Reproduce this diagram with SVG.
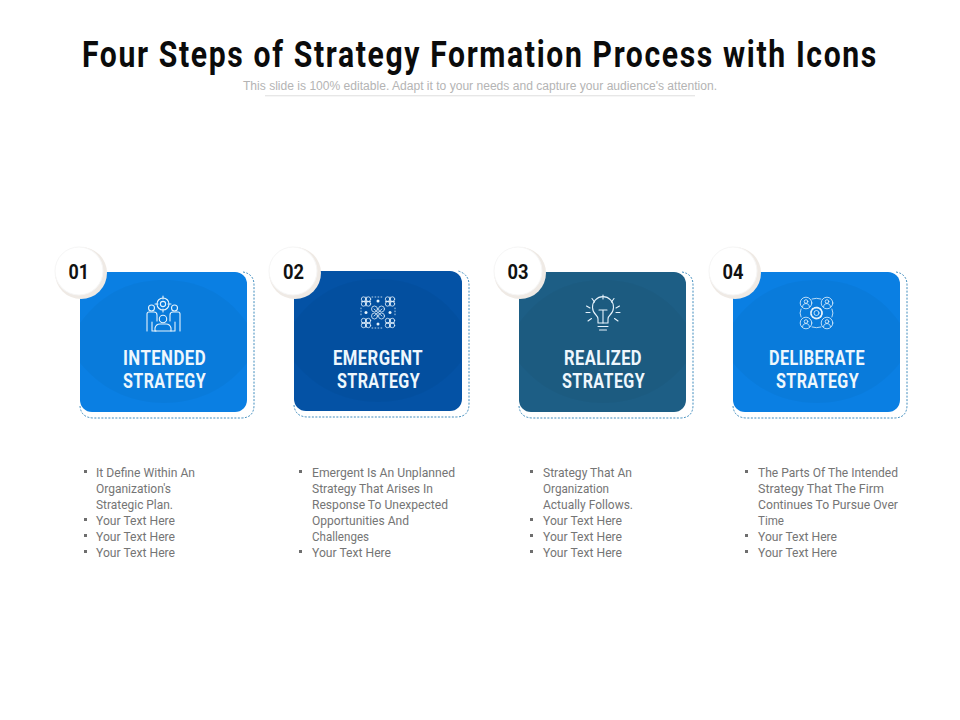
<svg xmlns="http://www.w3.org/2000/svg" width="960" height="720" viewBox="0 0 960 720">
<style>
text{font-family:"Roboto","Liberation Sans",sans-serif}
.t{font-weight:700;font-size:37px;letter-spacing:2px;fill:#0b0b0b}
.sub{font-size:12px;fill:#b4b4b4;font-family:"Liberation Sans",sans-serif}
.h{font-weight:700;font-size:20.500px;letter-spacing:.5px;fill:#eef7fd}
.n{font-weight:700;font-size:20.500px;fill:#111}
.b{font-size:13.500px;fill:#757575}
.dash{fill:none;stroke:#2a7fb5;stroke-width:.9;stroke-dasharray:2 1.500}
.lens{fill:#000;fill-opacity:.03}
.ic{fill:none;stroke:#e6f3fc;stroke-width:1.100;stroke-linecap:round;stroke-linejoin:round}
.thin{stroke-width:.8}
.fill{fill:#e6f3fc}
.halo{fill:#efeae5}
.disc{fill:#fff;stroke:#f6f6f6;stroke-width:1}
.bul{fill:#6e6e6e}
</style>
<defs>
<path id="lens" d="M0 51C24 18 54 8 84 8S144 18 167 51V91C144 120 114 131 84 131S24 120 0 91Z"/>
<g id="mini"><circle cx="-2.400" cy="-2.400" r="2.300"/><circle cx="2.400" cy="-2.400" r="2.300"/><circle cx="-2.400" cy="2.400" r="2.300"/><circle cx="2.400" cy="2.400" r="2.300"/><path d="M0 -4.500V4.500M-4.500 0H4.500"/></g>
<g id="usr"><circle r="5.800"/><circle cy="-1.500" r="1.800"/><path d="M-3.400 3.600C-3.100 1-1.400 .6 0 .6S3.100 1 3.400 3.600"/></g>
</defs>

<g id="title">
<text class="t" transform="translate(82 66.500) scale(.81 1)" x="0" y="0" textLength="982.700" lengthAdjust="spacingAndGlyphs">Four Steps of Strategy Formation Process with Icons</text>
<text class="sub" x="243" y="90" textLength="474" lengthAdjust="spacingAndGlyphs">This slide is 100% editable. Adapt it to your needs and capture your audience's attention.</text>
<rect x="265" y="95.500" width="430" height=".7" fill="#cfcfcf"/>
</g>

<g id="node-1">
<path class="dash" d="M80 406Q81 418 94 418H241Q254 418 254 405V285Q254 274 243 272"/>
<rect x="80" y="272" width="167" height="140" rx="12" fill="#0a7fe3"/>
<use href="#lens" x="80" y="272" class="lens"/>
<circle class="halo" cx="81" cy="273" r="26"/><circle class="disc" cx="79" cy="271" r="24"/>
<text class="n" x="68.500" y="278.500" textLength="20.500" lengthAdjust="spacingAndGlyphs">01</text>
<g class="ic">
<circle cx="163" cy="304" r="6"/><circle cx="163" cy="304" r="2.600"/><path d="M163 296V299M163 309V312M155 304H158M168 304H171"/>
<circle cx="151.500" cy="308" r="3"/><circle cx="174.500" cy="308" r="3"/>
<path d="M147 331V314Q147 312 149 312H154Q157 312 157 315V321M147 319V322M152 331V322M156 331H152M180 331V314Q180 312 178 312H173Q170 312 170 315V321M180 319V322M175 331V322M171 331H175"/>
<circle cx="163" cy="319" r="3.700"/><path d="M155 331V328Q156 324 160 324H166Q170 324 171 328V331Z"/>
</g>
<text class="h" x="123" y="365" textLength="83" lengthAdjust="spacingAndGlyphs">INTENDED</text>
<text class="h" x="123" y="388" textLength="83" lengthAdjust="spacingAndGlyphs">STRATEGY</text>
<rect class="bul" x="84" y="470" width="3" height="3"/>
<text class="b" x="96" y="476.500" textLength="99" lengthAdjust="spacingAndGlyphs">It Define Within An</text>
<text class="b" x="96" y="492.500" textLength="75" lengthAdjust="spacingAndGlyphs">Organization's</text>
<text class="b" x="96" y="508.500" textLength="77" lengthAdjust="spacingAndGlyphs">Strategic  Plan.</text>
<rect class="bul" x="84" y="518" width="3" height="3"/>
<text class="b" x="96" y="524.500" textLength="79" lengthAdjust="spacingAndGlyphs">Your Text Here</text>
<rect class="bul" x="84" y="534" width="3" height="3"/>
<text class="b" x="96" y="540.500" textLength="79" lengthAdjust="spacingAndGlyphs">Your Text Here</text>
<rect class="bul" x="84" y="550" width="3" height="3"/>
<text class="b" x="96" y="556.500" textLength="79" lengthAdjust="spacingAndGlyphs">Your Text Here</text>
</g>

<g id="node-2">
<path class="dash" d="M294 405Q295 417 308 417H456Q469 417 469 404V285Q469 274 458 271"/>
<rect x="294" y="271" width="168" height="140" rx="12" fill="#0452a5"/>
<use href="#lens" x="294" y="271" class="lens"/>
<circle class="halo" cx="295" cy="273" r="26"/><circle class="disc" cx="293" cy="271" r="24"/>
<text class="n" x="283" y="278.500" textLength="21" lengthAdjust="spacingAndGlyphs">02</text>
<g class="ic thin">
<use href="#mini" x="366" y="301.500"/><use href="#mini" x="390" y="301.500"/><use href="#mini" x="366" y="323"/><use href="#mini" x="390" y="323"/>
<circle cx="374.500" cy="309" r="3"/><circle cx="381.500" cy="309" r="3"/><circle cx="374.500" cy="316" r="3"/><circle cx="381.500" cy="316" r="3"/>
<path d="M374 309L382 316M382 309L374 316"/>
<path stroke-dasharray=".8 2.200" d="M372 297H384M372 328H384M361 308V317M395 308V317"/>
</g>
<g class="fill"><circle cx="378" cy="301" r="1.500"/><circle cx="378" cy="324" r="1.500"/><circle cx="366" cy="312.500" r="1.500"/><circle cx="390" cy="312.500" r="1.500"/></g>
<text class="h" x="333" y="365" textLength="90" lengthAdjust="spacingAndGlyphs">EMERGENT</text>
<text class="h" x="337" y="388" textLength="83" lengthAdjust="spacingAndGlyphs">STRATEGY</text>
<rect class="bul" x="299" y="470" width="3" height="3"/>
<text class="b" x="312" y="476.500" textLength="143" lengthAdjust="spacingAndGlyphs">Emergent  Is An Unplanned</text>
<text class="b" x="312" y="492.500" textLength="121" lengthAdjust="spacingAndGlyphs">Strategy  That Arises In</text>
<text class="b" x="312" y="508.500" textLength="136" lengthAdjust="spacingAndGlyphs">Response To Unexpected</text>
<text class="b" x="312" y="524.500" textLength="97" lengthAdjust="spacingAndGlyphs">Opportunities And</text>
<text class="b" x="312" y="540.500" textLength="57" lengthAdjust="spacingAndGlyphs">Challenges</text>
<rect class="bul" x="299" y="550" width="3" height="3"/>
<text class="b" x="312" y="556.500" textLength="79" lengthAdjust="spacingAndGlyphs">Your Text Here</text>
</g>

<g id="node-3">
<path class="dash" d="M519 406Q520 418 533 418H680Q693 418 693 405V285Q693 274 682 272"/>
<rect x="519" y="272" width="167" height="140" rx="12" fill="#1d5e85"/>
<use href="#lens" x="519" y="272" class="lens"/>
<circle class="halo" cx="520" cy="273" r="26"/><circle class="disc" cx="518" cy="271" r="24"/>
<text class="n" x="507.500" y="278.500" textLength="21" lengthAdjust="spacingAndGlyphs">03</text>
<g class="ic">
<path d="M598 323V319Q598 317 596 315A10.500 10.500 0 1 1 610 315Q608 317 608 319V323Z"/>
<path d="M598 326.500H608M599.500 330H606.500"/>
<path d="M599 310H607M603 310V323"/>
<path d="M603 295V299M592 298.500L594.500 302M614 298.500L611.500 302M586.500 306L590 308M619.500 306L616 308M586 312.500H590M620 312.500H616M588 321L591.500 318.500M618 321L614.500 318.500"/>
</g>
<text class="h" x="564" y="365" textLength="78" lengthAdjust="spacingAndGlyphs">REALIZED</text>
<text class="h" x="562" y="388" textLength="83" lengthAdjust="spacingAndGlyphs">STRATEGY</text>
<rect class="bul" x="530" y="470" width="3" height="3"/>
<text class="b" x="543" y="476.500" textLength="89" lengthAdjust="spacingAndGlyphs">Strategy That An</text>
<text class="b" x="543" y="492.500" textLength="66" lengthAdjust="spacingAndGlyphs">Organization</text>
<text class="b" x="543" y="508.500" textLength="90" lengthAdjust="spacingAndGlyphs">Actually Follows.</text>
<rect class="bul" x="530" y="518" width="3" height="3"/>
<text class="b" x="543" y="524.500" textLength="79" lengthAdjust="spacingAndGlyphs">Your Text Here</text>
<rect class="bul" x="530" y="534" width="3" height="3"/>
<text class="b" x="543" y="540.500" textLength="79" lengthAdjust="spacingAndGlyphs">Your Text Here</text>
<rect class="bul" x="530" y="550" width="3" height="3"/>
<text class="b" x="543" y="556.500" textLength="79" lengthAdjust="spacingAndGlyphs">Your Text Here</text>
</g>

<g id="node-4">
<path class="dash" d="M733 406Q734 418 747 418H894Q907 418 907 405V285Q907 274 896 272"/>
<rect x="733" y="272" width="167" height="140" rx="12" fill="#0a7fe3"/>
<use href="#lens" x="733" y="272" class="lens"/>
<circle class="halo" cx="735" cy="273" r="26"/><circle class="disc" cx="733" cy="271" r="24"/>
<text class="n" x="722.500" y="278.500" textLength="21" lengthAdjust="spacingAndGlyphs">04</text>
<g class="ic thin">
<use href="#usr" x="806" y="303"/><use href="#usr" x="827" y="303"/><use href="#usr" x="806" y="323"/><use href="#usr" x="827" y="323"/>
<circle cx="816.500" cy="313" r="2.500"/>
<circle cx="816.500" cy="313" r="5.500" stroke-dasharray="1.500 1.400" style="stroke-width:1.800"/>
<path d="M812 299Q816.500 297.500 821 299M812 327Q816.500 328.500 821 327M801 309Q799 313 801 317M832 309Q834 313 832 317"/>
</g>
<text class="h" x="769" y="365" textLength="96" lengthAdjust="spacingAndGlyphs">DELIBERATE</text>
<text class="h" x="776" y="388" textLength="83" lengthAdjust="spacingAndGlyphs">STRATEGY</text>
<rect class="bul" x="745" y="470" width="3" height="3"/>
<text class="b" x="758" y="476.500" textLength="140" lengthAdjust="spacingAndGlyphs">The Parts Of The Intended</text>
<text class="b" x="758" y="492.500" textLength="126" lengthAdjust="spacingAndGlyphs">Strategy That The Firm</text>
<text class="b" x="758" y="508.500" textLength="140" lengthAdjust="spacingAndGlyphs">Continues To Pursue Over</text>
<text class="b" x="758" y="524.500" textLength="26" lengthAdjust="spacingAndGlyphs">Time</text>
<rect class="bul" x="745" y="534" width="3" height="3"/>
<text class="b" x="758" y="540.500" textLength="79" lengthAdjust="spacingAndGlyphs">Your Text Here</text>
<rect class="bul" x="745" y="550" width="3" height="3"/>
<text class="b" x="758" y="556.500" textLength="79" lengthAdjust="spacingAndGlyphs">Your Text Here</text>
</g>

<g id="connectors"/>
</svg>
